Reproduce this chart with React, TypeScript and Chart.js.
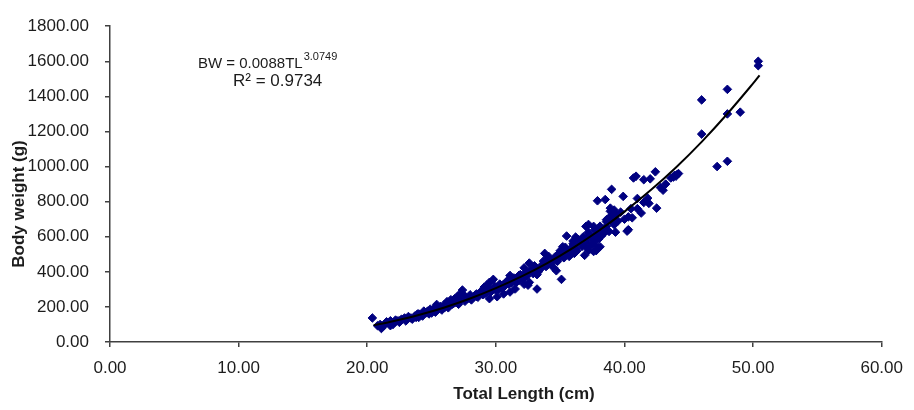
import React, { useEffect, useRef } from "react";
import { Chart, registerables } from "chart.js";

Chart.register(...registerables);

const lengthCm = [
  50.4, 50.4, 48.0, 46.0, 48.0, 49.0, 46.0, 47.2, 48.0,
  40.9, 40.7, 42.4, 41.5, 42.0, 43.6, 44.0, 44.1, 43.8,
  43.0, 39.0, 38.5, 37.9, 39.9, 41.0, 41.5, 41.9, 42.5, 41.3, 40.3, 40.6, 40.2, 40.3,
  39.2, 38.9, 39.3, 38.8, 38.6, 39.1, 39.2, 39.3, 38.2, 38.3, 37.9, 37.6, 37.4, 37.8,
  37.0, 37.6, 38.0, 37.2, 38.0, 37.1, 37.6, 38.0, 37.3, 37.8, 38.1,
  38.9, 39.2, 38.8, 38.6, 39.1,
  37.2, 37.8, 38.2, 37.6,
  35.5, 36.0, 36.2, 36.6, 37.0, 37.2, 36.9, 37.6,
  35.2, 35.6, 34.9, 34.9, 35.7, 36.1,
  33.8, 34.1, 34.3, 33.7, 34.5, 34.7, 35.1,
  32.6, 33.0, 32.2, 32.5, 33.2, 33.4,
  31.9, 32.2, 31.8, 32.6, 33.2, 32.5,
  31.1, 30.8, 30.5, 30.1, 29.7, 29.3,
  31.5, 31.1, 30.6, 30.1, 29.5, 32.2, 29.3,
  34.0, 34.5, 35.0, 35.5, 36.0, 36.5, 34.2, 35.3, 36.3, 33.5, 33.0, 32.0, 31.5, 31.0, 30.5, 30.0, 29.0,
  20.4, 20.8, 21.1, 21.4, 21.6, 21.8, 22.1, 22.4, 22.6, 22.9, 23.1, 23.4, 23.7, 23.9, 24.1, 24.4,
  24.7, 24.9, 25.2, 25.4, 25.7, 26.0, 26.2, 26.5, 26.8, 27.0, 27.2, 27.4, 27.5, 27.8, 28.0, 28.3,
  28.5, 28.8, 29.1, 29.3, 29.5, 29.8, 24.4, 25.4, 26.7, 21.1, 21.8, 22.0, 23.0, 24.0, 25.0, 26.0,
  27.0, 28.0, 28.5, 29.0,
  21.0, 21.3, 21.5, 21.9, 22.2, 22.5, 22.7, 23.0, 23.2, 23.5, 23.8, 24.0, 24.3, 24.6, 24.8, 25.1,
  25.3, 25.6, 25.8, 26.1, 26.3, 26.6, 26.9, 27.1, 27.3, 27.6, 27.9, 28.1, 28.4, 28.6, 28.9, 29.2,
  29.4, 29.6, 29.9, 30.2, 30.3, 30.7, 30.9, 31.2, 31.4, 31.6, 31.8, 32.1, 32.3, 32.4, 32.7, 32.9,
  33.1, 33.3, 33.6, 33.9, 34.0, 34.3, 34.6, 34.8, 35.0, 35.2, 35.4, 35.8, 36.0, 36.2, 36.4, 36.7,
  36.8, 37.0, 37.3, 37.5, 37.7, 37.9, 38.1, 38.4, 38.6, 38.8, 39.0, 39.5, 39.7, 40.0, 40.5, 41.0,
  41.8, 42.8, 43.2, 44.2, 43.9,
];

const weightG = [
  1600, 1575, 1440, 1380, 1300, 1310, 1185, 1000, 1030,
  945, 935, 970, 925, 930, 935, 945, 955, 940,
  865, 870, 812, 805, 830, 818, 795, 790, 763, 735, 713, 708, 632, 640,
  752, 745, 724, 697, 697, 686, 669, 626, 642, 615, 615, 587, 598, 521,
  659, 659, 642, 626, 630, 587, 576, 587, 543, 549, 543,
  763, 741, 708, 686, 680,
  670, 631, 604, 598,
  604, 576, 598, 560, 543, 521, 494, 516,
  543, 521, 505, 477, 488, 505,
  505, 488, 461, 461, 423, 406, 357,
  450, 434, 423, 395, 384, 412,
  384, 368, 351, 340, 302, 324,
  379, 340, 324, 313, 296, 285,
  302, 285, 274, 258, 247, 329, 313,
  440, 470, 500, 520, 545, 570, 455, 480, 520, 420, 400, 365, 345, 330, 305, 295, 280,
  137, 93, 82, 104, 110, 121, 110, 121, 126, 137, 132, 137, 148, 159, 154, 165,
  176, 187, 192, 214, 203, 214, 230, 241, 247, 258, 274, 296, 269, 247, 269, 258,
  274, 285, 313, 324, 340, 357, 176, 192, 219, 77, 93, 100, 120, 140, 165, 195,
  230, 250, 260, 270,
  100, 95, 115, 105, 125, 112, 130, 128, 145, 130, 140, 160, 148, 168, 160, 180,
  170, 190, 182, 205, 195, 215, 225, 215, 240, 232, 255, 240, 268, 255, 290, 278,
  300, 285, 318, 300, 330, 320, 350, 335, 365, 340, 380, 360, 395, 375, 410, 390,
  425, 400, 440, 430, 470, 445, 485, 460, 520, 495, 540, 515, 560, 530, 585, 545,
  600, 570, 610, 560, 640, 590, 660, 620, 660, 630, 720, 690, 740, 700, 760, 760,
  820, 880, 900, 960, 950,
];

// Power trend line BW = 0.0088 TL^3.0749, sampled values
const trendLength = [20.5, 22, 24, 26, 28, 30, 32, 34, 36, 38, 40, 42, 44, 46, 48, 50, 50.5];
const trendWeight = [95, 118, 154, 197, 248, 307, 374, 450, 537, 634, 743, 863, 995, 1141, 1301, 1474, 1520];

const xTitle = "Total Length (cm)";
const yTitle = "Body weight (g)";
const eqMain = "BW = 0.0088TL";
const eqExp = "3.0749";
const r2Text = "R\u00B2 = 0.9734";

const AXIS = "#404040";
const TEXT = "#1c1c1c";
const FONT = "'Liberation Sans', Arial, sans-serif";

const overlayText = {
  id: "overlayText",
  afterDraw(chart: any) {
    const ctx = chart.ctx as CanvasRenderingContext2D;
    ctx.save();
    ctx.fillStyle = TEXT;
    ctx.textAlign = "center";
    ctx.textBaseline = "middle";
    ctx.font = `bold 17px ${FONT}`;
    ctx.fillText(xTitle, 524, 394);
    ctx.save();
    ctx.translate(19, 204);
    ctx.rotate(-Math.PI / 2);
    ctx.fillText(yTitle, 0, 0);
    ctx.restore();

    ctx.textAlign = "left";
    ctx.textBaseline = "alphabetic";
    ctx.font = `15px ${FONT}`;
    ctx.fillText(eqMain, 198, 68);
    const w = ctx.measureText(eqMain).width;
    ctx.font = `11px ${FONT}`;
    ctx.fillText(eqExp, 198 + w + 1, 60);
    ctx.font = `17px ${FONT}`;
    ctx.fillText(r2Text, 233, 86);
    ctx.restore();
  },
};

export default function App() {
  const ref = useRef<HTMLCanvasElement | null>(null);

  useEffect(() => {
    document.body.style.margin = "0";
    const canvas = ref.current;
    if (!canvas) return;
    const points = lengthCm.map((x, i) => ({ x, y: weightG[i] }));
    const trend = trendLength.map((x, i) => ({ x, y: trendWeight[i] }));

    const chart = new Chart(canvas, {
      type: "scatter",
      data: {
        datasets: [
          {
            label: "Trend",
            data: trend,
            showLine: true,
            borderColor: "#000000",
            borderWidth: 2,
            pointRadius: 0,
            tension: 0.3,
            order: 0,
          } as any,
          {
            label: "Observed",
            data: points,
            pointStyle: "rectRot",
            pointRadius: 4.3,
            backgroundColor: "#000080",
            borderColor: "#000080",
            borderWidth: 1,
            order: 1,
          } as any,
        ],
      },
      options: {
        responsive: false,
        animation: false,
        layout: { padding: { top: 14, right: 26, left: 0, bottom: 0 } },
        plugins: {
          legend: { display: false },
          tooltip: { enabled: false },
        },
        scales: {
          x: {
            type: "linear",
            min: 0,
            max: 60,
            border: { display: true, color: AXIS, width: 1.5 },
            grid: { display: true, drawOnChartArea: false, drawTicks: true, tickLength: 5, color: AXIS, lineWidth: 1.5 },
            ticks: {
              stepSize: 10,
              padding: 11,
              color: TEXT,
              font: { family: FONT, size: 17 },
              callback: (v: any) => Number(v).toFixed(2),
              maxRotation: 0,
            },
            afterFit: (scale: any) => {
              scale.height = 68;
            },
          },
          y: {
            type: "linear",
            min: 0,
            max: 1800,
            border: { display: true, color: AXIS, width: 1.5 },
            grid: { display: true, drawOnChartArea: false, drawTicks: true, tickLength: 5, color: AXIS, lineWidth: 1.5 },
            ticks: {
              stepSize: 200,
              padding: 16,
              color: TEXT,
              font: { family: FONT, size: 17 },
              callback: (v: any) => Number(v).toFixed(2),
            },
            afterFit: (scale: any) => {
              scale.width = 110;
            },
          },
        },
      },
      plugins: [overlayText],
    });
    return () => chart.destroy();
  }, []);

  return (
    <div style={{ width: 914, height: 410 }}>
      <canvas ref={ref} width={914} height={410} style={{ width: 914, height: 410, display: "block" }} />
    </div>
  );
}
